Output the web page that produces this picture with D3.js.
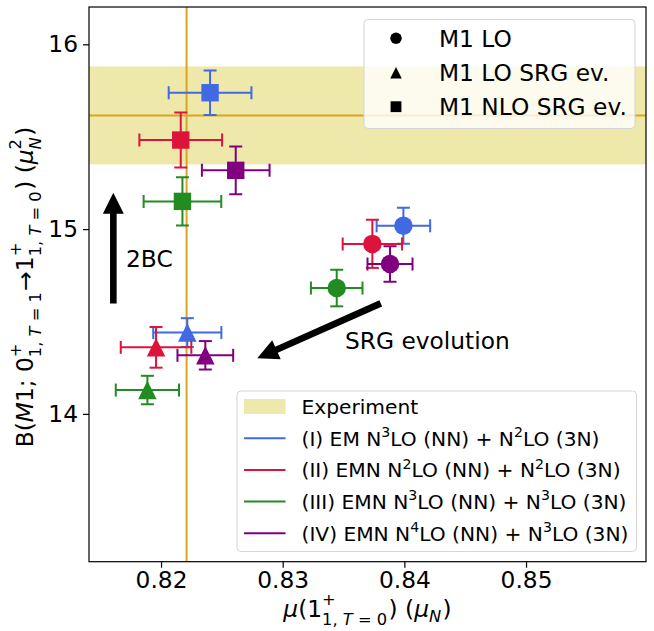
<!DOCTYPE html>
<html><head><meta charset="utf-8">
<script src="https://cdn.jsdelivr.net/npm/d3@7"></script>
<style>
body{margin:0;background:#fff}
svg{display:block}
text{font-family:"DejaVu Sans",sans-serif;fill:#000}
</style>
</head><body>
<svg id="chart" width="654" height="631"></svg>
<script>
// ---------------- data ----------------
const seriesLabels = [
  "(I) EM N^3LO (NN) + N^2LO (3N)",
  "(II) EMN N^2LO (NN) + N^2LO (3N)",
  "(III) EMN N^3LO (NN) + N^3LO (3N)",
  "(IV) EMN N^4LO (NN) + N^3LO (3N)"
];
const seriesColors = ["#4169e1", "#dc143c", "#228b22", "#800080"];

// M1 LO (circles)
const loMu     = [0.83992, 0.83737, 0.83444, 0.83882];
const loMuErr  = [0.0022, 0.00244, 0.00212, 0.00185];
const loB      = [15.018, 14.920, 14.681, 14.811];
const loBErr   = [0.097, 0.130, 0.099, 0.096];

// M1 LO SRG ev. (triangles)
const srgMu    = [0.82216, 0.81959, 0.81888, 0.82364];
const srgMuErr = [0.0028, 0.0029, 0.0026, 0.00229];
const srgB     = [14.440, 14.360, 14.129, 14.317];
const srgBErr  = [0.078, 0.110, 0.077, 0.077];

// M1 NLO SRG ev. (squares)
const nloMu    = [0.82403, 0.82162, 0.82176, 0.82614];
const nloMuErr = [0.0034, 0.0034, 0.00319, 0.00278];
const nloB     = [15.738, 15.482, 15.150, 15.318];
const nloBErr  = [0.120, 0.149, 0.130, 0.129];

// experiment
const expMu = 0.8221;
const expB = 15.615;
const expBErr = 0.265;

const markerLabels = ["M1 LO", "M1 LO SRG ev.", "M1 NLO SRG ev."];
const markerShapes = ["circle", "triangle", "square"];
const xTicks = [0.82, 0.83, 0.84, 0.85];
const yTicks = [14, 15, 16];
const xDomain = [0.81408, 0.85986];
const yDomain = [13.2, 16.202];

// arrows (data coords)
const arrow2BC = {from: [0.81608, 14.598], to: [0.81608, 15.197]};
const arrowSRG = {from: [0.83806, 14.598], to: [0.82791, 14.301]};

// ---------------- layout ----------------
const svg = d3.select("#chart");
const L = 89, R = 646, T = 7, B = 561.7;
const x = d3.scaleLinear().domain(xDomain).range([L, R]);
const y = d3.scaleLinear().domain(yDomain).range([B, T]);
const FS = 23.3;

svg.append("defs").append("clipPath").attr("id", "clip")
  .append("rect").attr("x", L).attr("y", T).attr("width", R - L).attr("height", B - T);
const plot = svg.append("g").attr("clip-path", "url(#clip)");

// experiment band and lines
plot.append("rect")
  .attr("x", L).attr("width", R - L)
  .attr("y", y(expB + expBErr)).attr("height", y(expB - expBErr) - y(expB + expBErr))
  .attr("fill", "#eee8aa");
plot.append("line").attr("x1", L).attr("x2", R).attr("y1", y(expB)).attr("y2", y(expB))
  .attr("stroke", "#daa520").attr("stroke-width", 2);
plot.append("line").attr("x1", x(expMu)).attr("x2", x(expMu)).attr("y1", T).attr("y2", B)
  .attr("stroke", "#daa520").attr("stroke-width", 2);

// marker symbols
function drawMarker(g, shape, cx, cy, size, color) {
  if (shape === "circle") {
    g.append("circle").attr("cx", cx).attr("cy", cy).attr("r", size / 2).attr("fill", color);
  } else if (shape === "square") {
    const s = size * 0.94;
    g.append("rect").attr("x", cx - s / 2).attr("y", cy - s / 2).attr("width", s).attr("height", s).attr("fill", color);
  } else {
    const h = size / 2;
    g.append("path").attr("d", `M${cx},${cy - h}L${cx + h},${cy + h}L${cx - h},${cy + h}Z`).attr("fill", color);
  }
}

function errorSeries(mu, muErr, b, bErr, shape) {
  const g = plot.append("g");
  mu.forEach((m, i) => {
    const c = seriesColors[i];
    const cx = x(m), cy = y(b[i]);
    const x0 = x(m - muErr[i]), x1 = x(m + muErr[i]);
    const y0 = y(b[i] - bErr[i]), y1 = y(b[i] + bErr[i]);
    const eg = g.append("g").attr("stroke", c).attr("stroke-width", 2).attr("fill", "none");
    eg.append("line").attr("x1", x0).attr("x2", x1).attr("y1", cy).attr("y2", cy);
    eg.append("line").attr("x1", cx).attr("x2", cx).attr("y1", y0).attr("y2", y1);
    const cap = 6.5;
    eg.append("line").attr("x1", x0).attr("x2", x0).attr("y1", cy - cap).attr("y2", cy + cap);
    eg.append("line").attr("x1", x1).attr("x2", x1).attr("y1", cy - cap).attr("y2", cy + cap);
    eg.append("line").attr("x1", cx - cap).attr("x2", cx + cap).attr("y1", y0).attr("y2", y0);
    eg.append("line").attr("x1", cx - cap).attr("x2", cx + cap).attr("y1", y1).attr("y2", y1);
    drawMarker(g, shape, cx, cy, 18.5, c);
  });
}
errorSeries(loMu, loMuErr, loB, loBErr, "circle");
errorSeries(srgMu, srgMuErr, srgB, srgBErr, "triangle");
errorSeries(nloMu, nloMuErr, nloB, nloBErr, "square");

// arrows
function drawArrow(a) {
  const x1 = x(a.from[0]), y1 = y(a.from[1]), x2 = x(a.to[0]), y2 = y(a.to[1]);
  const dx = x2 - x1, dy = y2 - y1, len = Math.hypot(dx, dy);
  const ux = dx / len, uy = dy / len, px = -uy, py = ux;
  const hl = 21, hw = 10.5, sw = 3.3;
  const bx = x2 - ux * hl, by = y2 - uy * hl;
  const pts = [
    [x1 + px * sw, y1 + py * sw], [bx + px * sw, by + py * sw], [bx + px * hw, by + py * hw],
    [x2, y2], [bx - px * hw, by - py * hw], [bx - px * sw, by - py * sw], [x1 - px * sw, y1 - py * sw]
  ];
  svg.append("path").attr("d", "M" + pts.map(p => p.join(",")).join("L") + "Z").attr("fill", "#000");
}
drawArrow(arrow2BC);
drawArrow(arrowSRG);
svg.append("text").attr("x", x(0.81712)).attr("y", y(14.797)).attr("font-size", FS).text("2BC");
svg.append("text").attr("x", x(0.83512)).attr("y", y(14.351)).attr("font-size", FS).text("SRG evolution");

// axes
const xAxis = d3.axisBottom(x).tickValues(xTicks).tickFormat(d3.format(".2f")).tickSize(6).tickPadding(4);
const yAxis = d3.axisLeft(y).tickValues(yTicks).tickFormat(d3.format("d")).tickSize(6).tickPadding(5);
const gx = svg.append("g").attr("transform", `translate(0,${B})`).call(xAxis);
const gy = svg.append("g").attr("transform", `translate(${L},0)`).call(yAxis);
[gx, gy].forEach(g => {
  g.select(".domain").remove();
  g.selectAll("line").attr("stroke", "#000").attr("stroke-width", 1.2);
  g.selectAll("text").attr("font-size", FS).attr("font-family", "DejaVu Sans").attr("fill", "#000");
});
svg.append("rect").attr("x", L).attr("y", T).attr("width", R - L).attr("height", B - T)
  .attr("fill", "none").attr("stroke", "#000").attr("stroke-width", 1.2);

// ---------- math-like text helper: one <text>, each script group one tspan ----------
// a piece is {t, it} (normal run) or {sup:[runs], sub:[runs]}
function mathText(parent, pieces, fs) {
  const t = parent.append("text").attr("font-size", fs);
  let cx = 0;
  function group(runs, size, dy) {
    const ts = t.append("tspan").attr("x", cx).attr("y", dy).attr("font-size", size);
    runs.forEach(r => {
      const c = ts.append("tspan").text(r.t);
      if (r.it) c.attr("font-style", "italic");
    });
    return ts.node().getComputedTextLength();
  }
  pieces.forEach(p => {
    if (p.sup || p.sub) {
      const start = cx;
      let w1 = 0, w2 = 0;
      if (p.sup) { cx = start; w1 = group(p.sup, fs * 0.7, p.sub ? -fs * 0.5 : -fs * 0.45); }
      if (p.sub) { cx = start; w2 = group(p.sub, fs * 0.7, p.sup ? fs * 0.34 : fs * 0.22); }
      cx = start + Math.max(w1, w2) + fs * 0.06;
    } else {
      cx += group([p], fs, 0);
    }
  });
  return {t, width: cx};
}

// x label
{
  const g = svg.append("g");
  const m = mathText(g, [
    {t: "μ", it: true}, {t: "(1"},
    {sup: [{t: "+"}], sub: [{t: "1, "}, {t: "T", it: true}, {t: " = 0"}]},
    {t: ") ("}, {t: "μ", it: true}, {sub: [{t: "N", it: true}]}, {t: ")"}
  ], FS);
  g.attr("transform", `translate(${(L + R) / 2 - m.width / 2},617)`);
}
// y label
{
  const outer = svg.append("g").attr("transform", `translate(33,287) rotate(-90)`);
  const g = outer.append("g");
  const m = mathText(g, [
    {t: "B("}, {t: "M", it: true}, {t: "1; 0"},
    {sup: [{t: "+"}], sub: [{t: "1, "}, {t: "T", it: true}, {t: " = 1"}]},
    {t: "→1"},
    {sup: [{t: "+"}], sub: [{t: "1, "}, {t: "T", it: true}, {t: " = 0"}]},
    {t: ") ("}, {t: "μ", it: true},
    {sup: [{t: "2"}], sub: [{t: "N", it: true}]}, {t: ")"}
  ], FS);
  g.attr("transform", `translate(${-m.width / 2},0)`);
}

// legend 1 (markers)
{
  const g = svg.append("g");
  g.append("rect").attr("x", 364).attr("y", 19.5).attr("width", 271).attr("height", 109).attr("rx", 4)
    .attr("fill", "rgba(255,255,255,0.8)").attr("stroke", "#d5d5d5").attr("stroke-width", 1);
  const rows = [38.3, 72.7, 106.7];
  markerLabels.forEach((lab, i) => {
    drawMarker(g, markerShapes[i], 396, rows[i], 11.5, "#000");
    g.append("text").attr("x", 439).attr("y", rows[i] + 8.3).attr("font-size", FS).text(lab);
  });
}

// legend 2 (series)
{
  const fs2 = 20.2;
  const g = svg.append("g");
  g.append("rect").attr("x", 237).attr("y", 391).attr("width", 399.5).attr("height", 160.5).attr("rx", 4)
    .attr("fill", "rgba(255,255,255,0.8)").attr("stroke", "#d5d5d5").attr("stroke-width", 1);
  const rowY = i => 406.5 + i * 31.7;
  g.append("rect").attr("x", 244).attr("y", rowY(0) - 7.5).attr("width", 41.5).attr("height", 15).attr("fill", "#eee8aa");
  g.append("text").attr("x", 301.5).attr("y", rowY(0) + 7.3).attr("font-size", fs2).text("Experiment");
  seriesLabels.forEach((lab, i) => {
    const yy = rowY(i + 1);
    g.append("line").attr("x1", 244).attr("x2", 285.5).attr("y1", yy).attr("y2", yy)
      .attr("stroke", seriesColors[i]).attr("stroke-width", 2);
    const t = g.append("text").attr("x", 301.5).attr("y", yy + 7.3).attr("font-size", fs2);
    const parts = lab.split(/(\^\d)/);
    let n = 0;
    parts.forEach(p => {
      if (p.startsWith("^")) {
        t.append("tspan").attr("dy", -fs2 * 0.42).attr("font-size", fs2 * 0.7).text(p.slice(1));
      } else if (p.length) {
        const ts = t.append("tspan").text(p);
        if (n > 0) ts.attr("dy", fs2 * 0.42);
      }
      n++;
    });
  });
}
</script>
</body></html>
